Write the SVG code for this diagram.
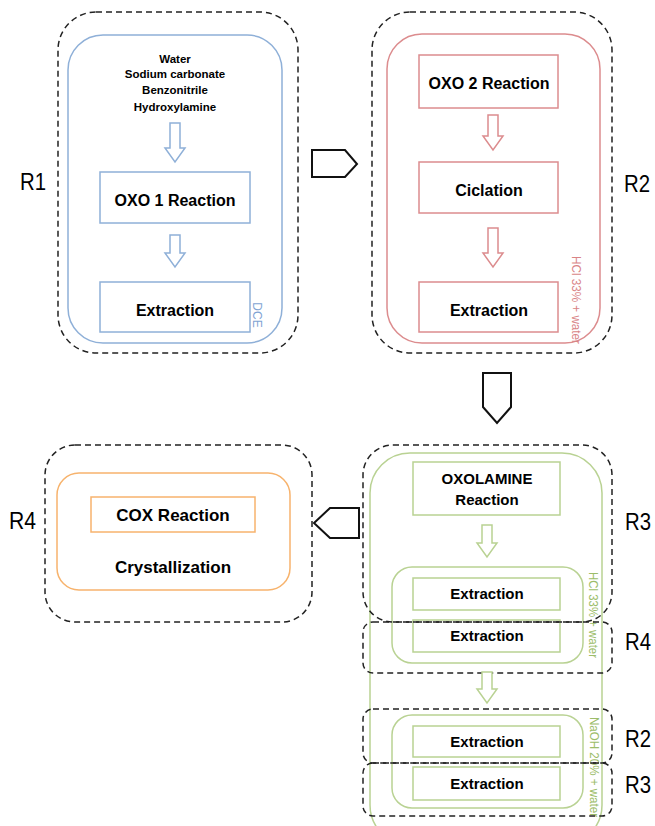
<svg xmlns="http://www.w3.org/2000/svg" width="655" height="826" viewBox="0 0 655 826">
<style>
.dash{fill:none;stroke:#222;stroke-width:1.5;stroke-dasharray:6 4}
.blue{fill:none;stroke:#8fb0d8;stroke-width:1.5}
.red{fill:none;stroke:#dc8c8e;stroke-width:1.5}
.green{fill:none;stroke:#b9d293;stroke-width:1.5}
.orange{fill:none;stroke:#f7b36d;stroke-width:1.5}
.fb{fill:#fff}
.t{font-family:"Liberation Sans",Arial,sans-serif;font-weight:bold;fill:#000;text-anchor:middle}
.lab{font-family:"Liberation Sans",Arial,sans-serif;font-size:24px;fill:#000}
.v{font-family:"Liberation Sans",Arial,sans-serif;font-size:12px}
.pent{fill:#fff;stroke:#111;stroke-width:2;stroke-linejoin:miter}
</style>
<rect width="655" height="826" fill="#fff"/>

<g id="R1">
<rect class="blue" x="68" y="35" width="214" height="308" rx="35"/>
<text class="t" x="175" y="63" font-size="11.5">Water</text>
<text class="t" x="175" y="78" font-size="11.5">Sodium carbonate</text>
<text class="t" x="175" y="94" font-size="11.5">Benzonitrile</text>
<text class="t" x="175" y="111" font-size="11.5">Hydroxylamine</text>
<g id="oxo1"><rect class="blue" x="100" y="172" width="150" height="51"/><text class="t" x="175" y="206" font-size="16">OXO 1 Reaction</text></g>
<g id="ext1"><rect class="blue" x="100" y="282" width="150" height="50"/><text class="t" x="175" y="316" font-size="16">Extraction</text></g>
<text class="v" fill="#7fa3d3" transform="translate(253,315) rotate(90)" text-anchor="middle">DCE</text>
<rect class="dash" x="58" y="12" width="240" height="341" rx="38"/>
<text class="lab" x="20" y="190" textLength="26" lengthAdjust="spacingAndGlyphs">R1</text>
</g>

<g id="R2">
<rect class="red" x="387" y="34" width="213" height="309" rx="35"/>
<g id="oxo2"><rect class="red" x="419" y="55" width="139" height="53"/><text class="t" x="489" y="89" font-size="16">OXO 2 Reaction</text></g>
<g id="cicl"><rect class="red" x="419" y="162" width="139" height="51"/><text class="t" x="489" y="196" font-size="16">Ciclation</text></g>
<g id="ext2"><rect class="red" x="419" y="282" width="139" height="50"/><text class="t" x="489" y="316" font-size="16">Extraction</text></g>
<text class="v" fill="#d98486" transform="translate(572,300) rotate(90)" text-anchor="middle" textLength="88" lengthAdjust="spacingAndGlyphs">HCl 33% + water</text>
<rect class="dash" x="372" y="12" width="240" height="341" rx="38"/>
<text class="lab" x="624" y="192" textLength="26" lengthAdjust="spacingAndGlyphs">R2</text>
</g>

<g id="R3">
<rect class="green" x="370" y="453" width="232" height="392" rx="40"/>
<g id="oxol"><rect class="green" x="413" y="462" width="147" height="53"/>
<text class="t" x="487" y="484" font-size="15">OXOLAMINE</text>
<text class="t" x="487" y="505" font-size="15">Reaction</text></g>
<rect class="green" x="392" y="567" width="191" height="96" rx="20"/>
<g id="ext3"><rect class="green" x="413" y="578" width="147" height="32"/><text class="t" x="487" y="599" font-size="15">Extraction</text></g>
<g id="ext4"><rect class="green" x="413" y="620" width="147" height="32"/><text class="t" x="487" y="641" font-size="15">Extraction</text></g>
<text class="v" fill="#9cbd6a" transform="translate(589,615) rotate(90)" text-anchor="middle" textLength="86" lengthAdjust="spacingAndGlyphs">HCl 33% + water</text>
<rect class="green" x="392" y="715" width="191" height="93" rx="20"/>
<g id="ext5"><rect class="green" x="413" y="726" width="147" height="31"/><text class="t" x="487" y="747" font-size="15">Extraction</text></g>
<g id="ext6"><rect class="green" x="413" y="767" width="147" height="33"/><text class="t" x="487" y="789" font-size="15">Extraction</text></g>
<text class="v" fill="#9cbd6a" transform="translate(590,767) rotate(90)" text-anchor="middle" textLength="100" lengthAdjust="spacingAndGlyphs">NaOH 20% + water</text>
<rect class="dash" x="363" y="445" width="249" height="177" rx="30"/>
<rect class="dash" x="363" y="622" width="249" height="51" rx="10"/>
<rect class="dash" x="363" y="709" width="249" height="54" rx="10"/>
<rect class="dash" x="363" y="763" width="249" height="53" rx="10"/>
<text class="lab" x="625" y="530" textLength="26" lengthAdjust="spacingAndGlyphs">R3</text>
<text class="lab" x="625" y="650" textLength="26" lengthAdjust="spacingAndGlyphs">R4</text>
<text class="lab" x="625" y="747" textLength="26" lengthAdjust="spacingAndGlyphs">R2</text>
<text class="lab" x="625" y="793" textLength="26" lengthAdjust="spacingAndGlyphs">R3</text>
</g>

<g id="R4">
<rect class="orange" x="57" y="473" width="233" height="117" rx="22"/>
<g id="cox"><rect class="orange" x="91" y="497" width="164" height="35"/><text class="t" x="173" y="521" font-size="17">COX Reaction</text></g>
<text class="t" x="173" y="573" font-size="17">Crystallization</text>
<rect class="dash" x="45" y="445" width="267" height="177" rx="30"/>
<text class="lab" x="9" y="529" textLength="27" lengthAdjust="spacingAndGlyphs">R4</text>
</g>

<g id="connectors">
<path class="blue fb" d="M170,123 H180 V148 H185 L175,162 L165,148 H170 Z"/>
<path class="blue fb" d="M170,235 H180 V253 H185 L175,267 L165,253 H170 Z"/>
<path class="red fb" d="M488,115 H498 V136 H503 L493,150 L483,136 H488 Z"/>
<path class="red fb" d="M488,228 H498 V253 H503 L493,267 L483,253 H488 Z"/>
<path class="green fb" d="M482,525 H492 V543 H497 L487,557 L477,543 H482 Z"/>
<path class="green fb" d="M482,672 H492 V689 H497 L487,703 L477,689 H482 Z"/>
<polygon class="pent" points="312,150 345,150 357,164 345,177 312,177"/>
<polygon class="pent" points="483,373 511,373 511,407 497,423 483,407"/>
<polygon class="pent" points="359,508 330,508 314,523 330,538 359,538"/>
</g>
</svg>
